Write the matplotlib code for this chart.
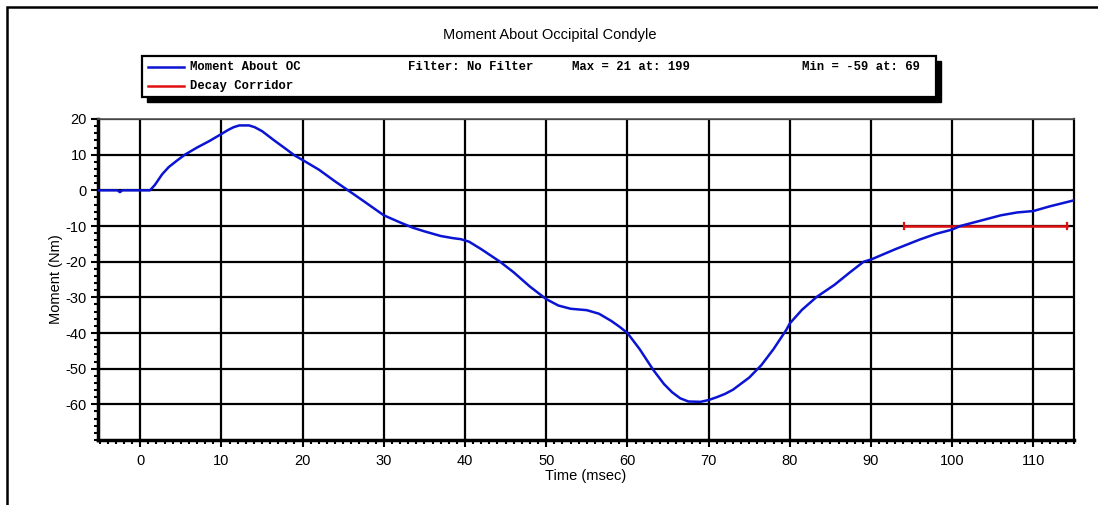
import matplotlib

matplotlib.use('Agg')
import matplotlib.pyplot as plt
from matplotlib.patches import Rectangle
from matplotlib.ticker import MultipleLocator

# Moment about OC
time_ms = [-5.2, -2.8, -2.5, -2.2, 1.2, 1.8, 2.7, 3.5, 4.5, 5.5, 7.0, 8.5, 10.0,
           10.8, 11.5, 12.2, 13.4, 14.1, 15.0, 16.5, 18.0, 19.0, 20.0, 22.0,
           24.0, 25.6, 27.5, 30.0, 32.0, 33.6, 35.0, 37.0, 38.5, 39.5, 40.5,
           42.0, 44.3, 46.0, 48.0, 50.0, 51.5, 53.0, 55.0, 56.5, 58.0, 59.0,
           60.0, 61.5, 63.2, 64.5, 65.5, 66.5, 67.5, 69.0, 70.0, 71.0, 72.0,
           73.0, 75.0, 76.5, 78.0, 79.6, 80.0, 81.5, 83.3, 85.5, 87.4, 89.1,
           90.0, 93.0, 96.0, 98.0, 100.0, 101.0, 103.0, 106.0, 108.0, 110.0,
           112.0, 115.0]
moment_nm = [0.0, 0.0, -0.5, 0.0, 0.0, 1.5, 4.5, 6.5, 8.3, 10.0, 12.0, 13.8, 15.8,
             16.9, 17.7, 18.2, 18.2, 17.7, 16.6, 14.0, 11.5, 9.8, 8.5, 5.8,
             2.5, 0.0, -3.0, -7.0, -9.0, -10.5, -11.5, -12.8, -13.4, -13.7, -14.4,
             -16.5, -20.0, -23.0, -27.0, -30.5, -32.3, -33.2, -33.6, -34.6, -36.6, -38.2,
             -40.0, -44.5, -50.4, -54.3, -56.6, -58.3, -59.2, -59.3, -58.8, -58.0, -57.1,
             -55.9, -52.5, -49.0, -44.5, -39.0, -37.3, -33.5, -29.9, -26.5, -23.0, -20.0,
             -19.4, -16.5, -13.8, -12.2, -11.0, -10.0, -8.8, -7.0, -6.2, -5.8,
             -4.5, -2.8]

# decay corridor
corridor_t = [94.1, 114.1]
corridor_level = -10.0

x_ticks = list(range(0, 111, 10))
y_ticks = list(range(-60, 21, 10))

W, H = 1098, 505
plt.rcParams['font.family'] = ['Liberation Sans', 'DejaVu Sans']
plt.rcParams['axes.unicode_minus'] = False

fig = plt.figure(figsize=(W / 100, H / 100), dpi=100)


def fx(px):
    return px / W


def fy(py):
    return 1 - py / H


ax = fig.add_axes([fx(98), fy(440), fx(1074) - fx(98), fy(119) - fy(440)])

for t in x_ticks:
    ax.axvline(t, color='black', lw=1.6, zorder=1)
for v in y_ticks:
    ax.axhline(v, color='black', lw=1.6, zorder=1)

ax.plot(time_ms, moment_nm, color='#0a14d2', lw=1.8, zorder=3)
ax.plot(corridor_t, [corridor_level, corridor_level], color='#e01010', lw=1.8,
        zorder=2)
for t in corridor_t:
    ax.plot([t, t], [corridor_level - 0.9, corridor_level + 0.9],
            color='#e01010', lw=1.6, zorder=2)

ax.set_xlim(-5.2, 115)
ax.set_ylim(-70, 20)
ax.set_xticks(x_ticks)
ax.set_yticks(y_ticks)
ax.xaxis.set_minor_locator(MultipleLocator(1))
ax.yaxis.set_minor_locator(MultipleLocator(2))
ax.tick_params(which='major', direction='out', length=5, width=1.5,
               labelsize=10.5, pad=3)
ax.tick_params(which='minor', direction='out', length=3, width=1.5)
ax.tick_params(axis='x', pad=5)
for side in ['left', 'bottom']:
    ax.spines[side].set_linewidth(2.5)
ax.spines['top'].set_linewidth(1.2)
ax.spines['top'].set_color('#555555')
ax.spines['right'].set_linewidth(1.6)

ax.set_xlabel('Time (msec)', fontsize=10.5, labelpad=1)
ax.set_ylabel('Moment (Nm)', fontsize=10.5, labelpad=2)

fig.text(fx(550), fy(35), 'Moment About Occipital Condyle', ha='center',
         va='center', fontsize=10.5)

# outer frame, only left and top edges fall inside the picture
fig.patches.append(Rectangle((fx(7), -0.1), 1.2, fy(7) + 0.1, fill=False,
                             edgecolor='black', lw=1.8,
                             transform=fig.transFigure, figure=fig))

# legend box with drop shadow
box_l, box_t, box_r, box_b = 142, 56, 936, 97
shadow = 5
fig.patches.append(Rectangle((fx(box_l + shadow), fy(box_b + shadow)),
                             fx(box_r) - fx(box_l), fy(box_t) - fy(box_b),
                             facecolor='black', edgecolor='black',
                             transform=fig.transFigure, figure=fig))
fig.patches.append(Rectangle((fx(box_l), fy(box_b)),
                             fx(box_r) - fx(box_l), fy(box_t) - fy(box_b),
                             facecolor='white', edgecolor='black', lw=1.6,
                             transform=fig.transFigure, figure=fig))

mono = dict(family=['Liberation Mono', 'DejaVu Sans Mono'], weight='bold',
            fontsize=8.8, va='center')
fig.lines.append(plt.Line2D([fx(148), fx(184)], [fy(67), fy(67)],
                            color='#0a14d2', lw=1.8,
                            transform=fig.transFigure))
fig.lines.append(plt.Line2D([fx(148), fx(184)], [fy(86), fy(86)],
                            color='#e01010', lw=1.8,
                            transform=fig.transFigure))
fig.text(fx(190), fy(67), 'Moment About OC', **mono)
fig.text(fx(190), fy(86), 'Decay Corridor', **mono)
fig.text(fx(408), fy(67), 'Filter: No Filter', **mono)
fig.text(fx(572), fy(67), 'Max = 21 at: 199', **mono)
fig.text(fx(802), fy(67), 'Min = -59 at: 69', **mono)

fig.savefig('out.png', dpi=100)
